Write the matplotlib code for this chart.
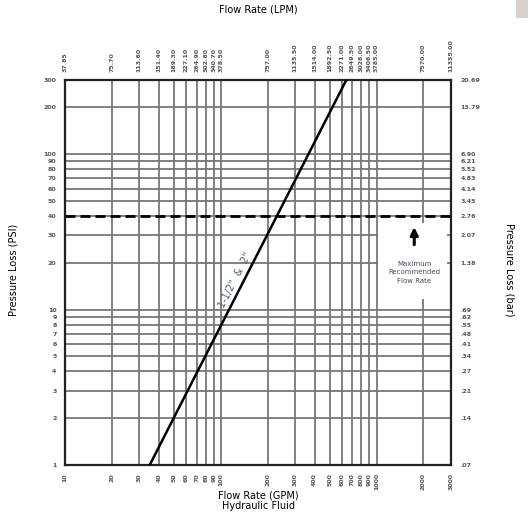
import matplotlib.pyplot as plt
from matplotlib.patches import Rectangle

# flow rate (GPM) and matching LPM labels
gpm_ticks = [10, 20, 30, 40, 50, 60, 70, 80, 90, 100,
             200, 300, 400, 500, 600, 700, 800, 900, 1000, 2000, 3000]
lpm_labels = ['37.85', '75.70', '113.60', '151.40', '189.30', '227.10',
              '264.90', '302.80', '340.70', '378.50', '757.00', '1135.50',
              '1514.00', '1892.50', '2271.00', '2649.50', '3028.00',
              '3406.50', '3785.00', '7570.00', '11355.00']

# pressure loss (PSI) and matching bar labels
psi_ticks = [1, 2, 3, 4, 5, 6, 7, 8, 9, 10,
             20, 30, 40, 50, 60, 70, 80, 90, 100, 200, 300]
bar_labels = ['.07', '.14', '.21', '.27', '.34', '.41', '.48', '.55', '.62',
              '.69', '1.38', '2.07', '2.76', '3.45', '4.14', '4.83', '5.52',
              '6.21', '6.90', '13.79', '20.69']

# pressure loss curve for 1-1/2" & 2"
line_gpm = [35, 640]
line_psi = [1, 300]
line_label = '1-1/2"  &  2"'

max_psi = 40

tick_font = dict(fontsize=4.5, color='#555555', fontweight='bold')
grid_color = '#777777'

fig = plt.figure(figsize=(5.28, 5.29), dpi=100)
ax = fig.add_axes([0.123, 0.121, 0.731, 0.728])
ax.set_xscale('log')
ax.set_yscale('log')
ax.set_xlim(10, 3000)
ax.set_ylim(1, 300)
ax.minorticks_off()

# grid
for x in gpm_ticks[1:-1]:
    ax.axvline(x, color=grid_color, lw=1.3, zorder=1)
for y in psi_ticks[1:-1]:
    ax.axhline(y, color=grid_color, lw=1.3, zorder=1)

# max recommended line
ax.axhline(max_psi, color='black', lw=2, dashes=(3.6, 1.8), zorder=3)

# curve
ax.plot(line_gpm, line_psi, color='black', lw=1.8, zorder=4)
ax.text(124, 15.5, line_label, rotation=63, fontsize=7, color='#4a5a80',
        ha='center', va='center', zorder=5)

# annotation box
ax.add_patch(Rectangle((0.81, 0.43), 0.18, 0.198, transform=ax.transAxes,
                       facecolor='white', edgecolor='none', zorder=2))
ax.annotate('', xy=(0.905, 0.625), xytext=(0.905, 0.565),
            xycoords='axes fraction',
            arrowprops=dict(arrowstyle='-|>', color='black', lw=2.2,
                            mutation_scale=11), zorder=5)
ax.text(0.905, 0.5, 'Maximum\nRecommended\nFlow Rate', transform=ax.transAxes,
        fontsize=5, color='#554466', ha='center', va='center',
        linespacing=1.5, zorder=5)

# spines and ticks
for s in ax.spines.values():
    s.set_linewidth(1.6)
    s.set_color('#222222')

ax.set_xticks(gpm_ticks)
ax.set_xticklabels([str(v) for v in gpm_ticks], rotation=90, **tick_font)
ax.set_yticks(psi_ticks)
ax.set_yticklabels([str(v) for v in psi_ticks], **tick_font)
ax.tick_params(length=0, pad=6)

top = ax.twiny()
top.set_xscale('log')
top.set_xlim(ax.get_xlim())
top.minorticks_off()
top.set_xticks(gpm_ticks)
top.set_xticklabels(lpm_labels, rotation=90, **tick_font)
top.tick_params(length=0, pad=6)

right = ax.twinx()
right.set_yscale('log')
right.set_ylim(ax.get_ylim())
right.minorticks_off()
right.set_yticks(psi_ticks)
right.set_yticklabels(bar_labels, **tick_font)
right.tick_params(length=0, pad=7)
for a in (top, right):
    for s in a.spines.values():
        s.set_visible(False)

# axis titles
fig.text(0.489, 0.982, 'Flow Rate (LPM)', fontsize=7, ha='center', va='center')
fig.text(0.489, 0.053, 'Flow Rate (GPM)\nHydraulic Fluid', fontsize=7,
         ha='center', va='center', linespacing=1.1)
fig.text(0.026, 0.49, 'Pressure Loss (PSI)', fontsize=7, rotation=90,
         ha='center', va='center')
fig.text(0.965, 0.49, 'Pressure Loss (bar)', fontsize=7, rotation=-90,
         ha='center', va='center')

# page tab in the corner
fig.patches.append(Rectangle((0.977, 0.966), 0.023, 0.034,
                             transform=fig.transFigure, facecolor='#d9d2cc',
                             edgecolor='none'))

fig.savefig('out.png', dpi=100)
